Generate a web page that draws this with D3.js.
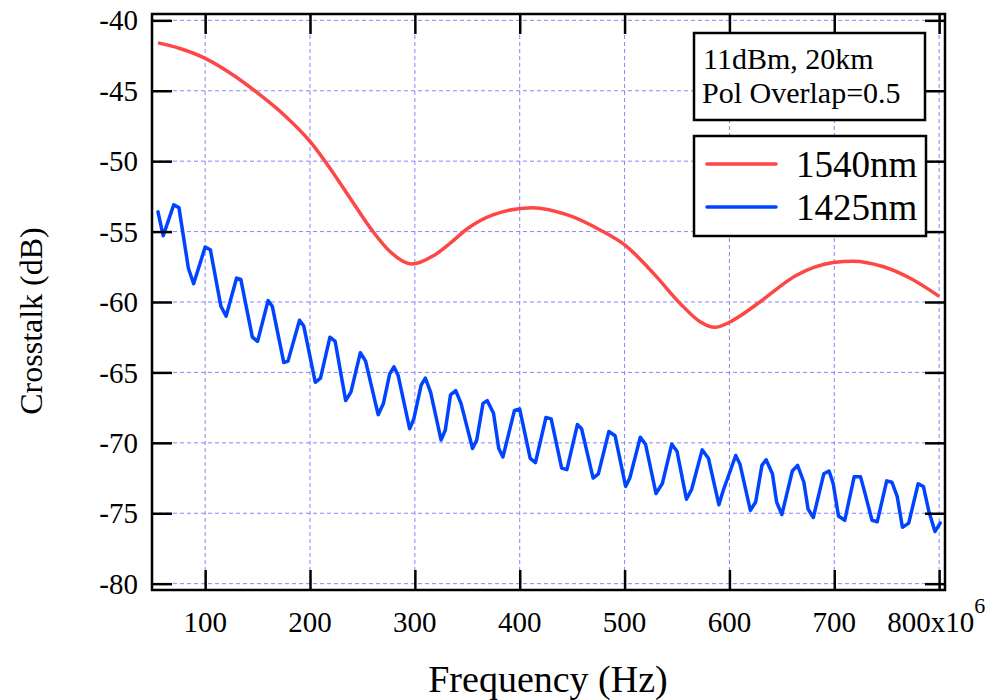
<!DOCTYPE html>
<html>
<head>
<meta charset="utf-8">
<script src="https://cdn.jsdelivr.net/npm/d3@7"></script>
<style>
  html, body { margin: 0; padding: 0; background: #fff; }
  svg { display: block; font-family: "Liberation Serif", "Times New Roman", serif; }
</style>
</head>
<body>
<svg id="chart" width="995" height="700"></svg>
<script>
// Crosstalk vs. modulation frequency, two wavelengths
const xTicks = [100, 200, 300, 400, 500, 600, 700, 800];
const yTicks = [-40, -45, -50, -55, -60, -65, -70, -75, -80];

const seriesNames = ["1540nm", "1425nm"];

// 1540 nm (smooth)
const redFreq = [55, 76, 100, 127, 149, 175, 200, 219, 238, 259, 276, 297, 318, 334, 350, 375, 412,
  445, 477, 501, 528, 553, 572, 586, 601, 610, 629, 664, 699, 718, 747, 772, 800];
const redDb = [-41.6, -42.0, -42.7, -43.9, -45.1, -46.7, -48.6, -50.5, -52.6, -54.9, -56.4, -57.3, -56.7,
  -55.8, -54.8, -53.8, -53.3, -53.8, -54.9, -56.0, -58.0, -60.1, -61.4, -61.8, -61.4, -61.0, -60.0,
  -58.1, -57.2, -57.1, -57.5, -58.3, -59.6];

// 1425 nm (oscillating)
const blueFreq = [55, 60, 70, 75, 84, 89, 100, 105, 115, 120, 130, 134, 145, 150, 160, 164, 175, 179,
  190, 194, 205, 210, 219, 224, 234, 239, 248, 253, 265, 270, 276, 280, 284, 295, 299, 306, 310, 315,
  325, 329, 334, 339, 344, 355, 359, 365, 369, 375, 380, 384, 395, 400, 410, 415, 425, 430, 440, 445,
  455, 459, 470, 475, 485, 491, 501, 505, 515, 520, 530, 536, 545, 550, 559, 564, 574, 580, 590, 594,
  606, 610, 620, 625, 631, 635, 641, 645, 650, 660, 665, 671, 675, 680, 690, 695, 699, 704, 710, 719,
  725, 729, 736, 741, 750, 755, 760, 765, 771, 780, 785, 790, 796, 801];
const blueDb = [-53.6, -55.3, -53.1, -53.3, -57.6, -58.7, -56.1, -56.3, -60.3, -61.0, -58.3, -58.4,
  -62.5, -62.8, -59.9, -60.3, -64.3, -64.2, -61.3, -61.7, -65.7, -65.4, -62.5, -62.8, -67.0, -66.4,
  -63.6, -64.2, -68.0, -67.2, -65.1, -64.6, -65.2, -69.0, -68.3, -65.9, -65.4, -66.4, -69.8, -69.1,
  -66.6, -66.3, -67.2, -70.4, -69.8, -67.2, -67.0, -67.9, -70.4, -71.0, -67.7, -67.6, -71.1, -71.4,
  -68.2, -68.3, -71.8, -71.9, -68.7, -69.0, -72.5, -72.2, -69.2, -69.5, -73.1, -72.5, -69.6, -70.1,
  -73.6, -72.9, -70.1, -70.6, -74.0, -73.3, -70.5, -71.1, -74.4, -73.4, -70.9, -71.5, -74.8, -74.2,
  -71.6, -71.2, -72.2, -74.2, -75.1, -72.0, -71.6, -72.8, -74.7, -75.3, -72.2, -72.0, -72.9, -75.2,
  -75.5, -72.4, -72.4, -73.5, -75.5, -75.6, -72.7, -72.8, -73.8, -76.0, -75.7, -72.9, -73.1, -74.8,
  -76.3, -75.7];

const RED = "#ff4646";
const BLUE = "#0044ff";
const GRID = "#8484ff";

const svg = d3.select("#chart");
const L = 152, R = 945, T = 14, B = 590;

const x = d3.scaleLinear().domain([49.3, 805.6]).range([L, R]);
const y = d3.scaleLinear().domain([-80.45, -39.55]).range([B, T]);

// dashed grid
const grid = svg.append("g");
grid.selectAll("line.gx").data(xTicks).join("line")
  .attr("x1", d => x(d)).attr("x2", d => x(d)).attr("y1", T).attr("y2", B)
  .attr("stroke", GRID).attr("stroke-width", 1).attr("stroke-dasharray", "4,3");
grid.selectAll("line.gy").data(yTicks).join("line")
  .attr("x1", L).attr("x2", R).attr("y1", d => y(d)).attr("y2", d => y(d))
  .attr("stroke", GRID).attr("stroke-width", 1).attr("stroke-dasharray", "4,3");

// curves
const redPts = redFreq.map((f, i) => [f, redDb[i]]);
const bluePts = blueFreq.map((f, i) => [f, blueDb[i]]);

svg.append("path").datum(redPts)
  .attr("fill", "none").attr("stroke", RED).attr("stroke-width", 3.5)
  .attr("d", d3.line().x(d => x(d[0])).y(d => y(d[1])).curve(d3.curveMonotoneX));

svg.append("path").datum(bluePts)
  .attr("fill", "none").attr("stroke", BLUE).attr("stroke-width", 3.5)
  .attr("stroke-linejoin", "round").attr("stroke-linecap", "round")
  .attr("d", d3.line().x(d => x(d[0])).y(d => y(d[1])));

// axes with inward ticks on all four sides
const TL = 20;
const axisStyle = g => {
  g.select(".domain").remove();
  g.selectAll(".tick line").attr("stroke", "#000").attr("stroke-width", 2.5);
};
svg.append("g").attr("transform", `translate(0,${B})`)
  .call(d3.axisBottom(x).tickValues(xTicks).tickSizeInner(-TL).tickSizeOuter(0).tickFormat(""))
  .call(axisStyle);
svg.append("g").attr("transform", `translate(0,${T})`)
  .call(d3.axisTop(x).tickValues(xTicks).tickSizeInner(-TL).tickSizeOuter(0).tickFormat(""))
  .call(axisStyle);
svg.append("g").attr("transform", `translate(${L},0)`)
  .call(d3.axisLeft(y).tickValues(yTicks).tickSizeInner(-TL).tickSizeOuter(0).tickFormat(""))
  .call(axisStyle);
svg.append("g").attr("transform", `translate(${R},0)`)
  .call(d3.axisRight(y).tickValues(yTicks).tickSizeInner(-TL).tickSizeOuter(0).tickFormat(""))
  .call(axisStyle);

// frame
svg.append("rect").attr("x", L).attr("y", T).attr("width", R - L).attr("height", B - T)
  .attr("fill", "none").attr("stroke", "#000").attr("stroke-width", 2.5);

// tick labels
const TICK_FS = 29;
svg.append("g").selectAll("text").data(yTicks).join("text")
  .attr("x", L - 14).attr("y", d => y(d)).attr("dy", "0.35em")
  .attr("text-anchor", "end").attr("font-size", TICK_FS).text(d => d);

const xl = svg.append("g").selectAll("text").data(xTicks).join("text")
  .attr("x", d => x(d) + (d === 800 ? -3 : 0)).attr("y", 632)
  .attr("text-anchor", "middle").attr("font-size", TICK_FS);
xl.filter(d => d !== 800).text(d => d);
xl.filter(d => d === 800).each(function (d) {
  const t = d3.select(this);
  t.append("tspan").text(d + "x10");
  t.append("tspan").attr("dy", -19).attr("font-size", 22).text("6");
});

// axis titles
svg.append("text").attr("x", 548).attr("y", 692)
  .attr("text-anchor", "middle").attr("font-size", 38).text("Frequency (Hz)");
svg.append("text").attr("transform", `translate(42,${(T + B) / 2 + 19}) rotate(-90)`)
  .attr("text-anchor", "middle").attr("font-size", 32).text("Crosstalk (dB)");

// annotation box
svg.append("rect").attr("x", 694).attr("y", 33).attr("width", 231).attr("height", 87)
  .attr("fill", "#fff").attr("stroke", "#000").attr("stroke-width", 2.5);
svg.append("text").attr("x", 703).attr("y", 69).attr("font-size", 30).text("11dBm, 20km");
svg.append("text").attr("x", 702).attr("y", 103).attr("font-size", 30).text("Pol Overlap=0.5");

// legend
const lg = svg.append("g");
lg.append("rect").attr("x", 694).attr("y", 136).attr("width", 232).attr("height", 100)
  .attr("fill", "#fff").attr("stroke", "#000").attr("stroke-width", 2.5);
const colors = [RED, BLUE];
seriesNames.forEach((name, i) => {
  const yy = 164 + i * 43;
  lg.append("line").attr("x1", 707).attr("x2", 776).attr("y1", yy).attr("y2", yy)
    .attr("stroke", colors[i]).attr("stroke-width", 3.5).attr("stroke-linecap", "round");
  lg.append("text").attr("x", 796).attr("y", yy + 13).attr("font-size", 37).text(name);
});
</script>
</body>
</html>
